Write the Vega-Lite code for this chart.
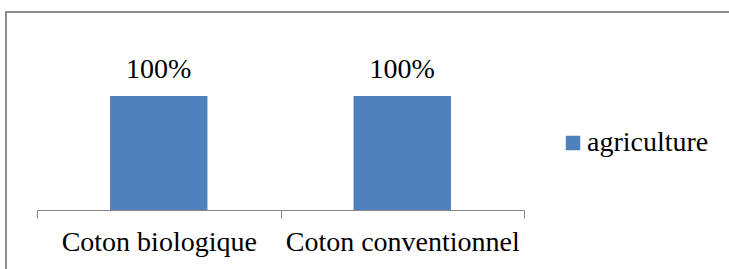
{
  "$schema": "https://vega.github.io/schema/vega-lite/v6.json",
  "autosize": "none",
  "width": 740,
  "height": 280,
  "padding": {"left": 6, "top": 12, "right": -17, "bottom": -23},
  "background": "white",
  "config": {
    "view": {"stroke": "#8c8c8c", "strokeWidth": 2},
    "font": "Liberation Serif"
  },
  "data": {
    "values": [
      {"categorie": "Coton biologique", "series": "agriculture", "valeur": 1.0},
      {"categorie": "Coton conventionnel", "series": "agriculture", "valeur": 1.0}
    ]
  },
  "encoding": {
    "x": {
      "field": "categorie",
      "type": "nominal",
      "sort": null,
      "scale": {"range": [31, 518], "paddingInner": 0, "paddingOuter": 0},
      "axis": {
        "title": null,
        "orient": "bottom",
        "offset": -82,
        "tickBand": "extent",
        "labelAngle": 0,
        "labelFont": "Liberation Serif",
        "labelFontSize": 28,
        "labelColor": "#000000",
        "labelPadding": 10,
        "labelLimit": 0,
        "labelOverlap": false,
        "domainColor": "#868686",
        "domainWidth": 1,
        "tickColor": "#868686",
        "tickWidth": 1,
        "tickSize": 8,
        "grid": false
      }
    },
    "y": {
      "field": "valeur",
      "type": "quantitative",
      "scale": {"domain": [0, 1], "range": [198, 84]},
      "axis": null
    }
  },
  "layer": [
    {
      "mark": {"type": "bar", "width": {"band": 0.4}},
      "encoding": {
        "color": {
          "field": "series",
          "type": "nominal",
          "scale": {"range": ["#4F81BD"]},
          "legend": {
            "title": null,
            "orient": "none",
            "legendX": 553,
            "legendY": 117,
            "padding": 0,
            "symbolType": "square",
            "symbolSize": 210,
            "symbolStrokeWidth": 0,
            "labelFont": "Liberation Serif",
            "labelFontSize": 28,
            "labelColor": "#000000",
            "labelOffset": 0,
            "labelLimit": 0
          }
        }
      }
    },
    {
      "mark": {
        "type": "text",
        "baseline": "alphabetic",
        "dy": -18,
        "font": "Liberation Serif",
        "fontSize": 28,
        "color": "#000000"
      },
      "encoding": {
        "text": {"field": "valeur", "type": "quantitative", "format": ".0%"}
      }
    }
  ]
}
